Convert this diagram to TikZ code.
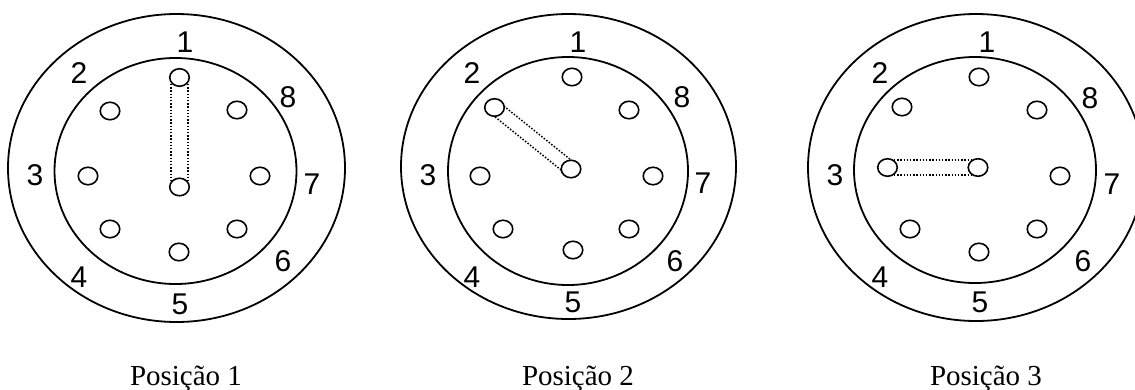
\documentclass[tikz,border=0pt]{standalone}
\usepackage{fontspec}
\setmainfont{Liberation Serif}
\newfontfamily\arialf{Liberation Sans}
\usetikzlibrary{shapes.geometric,calc}
\pgfdeclarelayer{bg}
\pgfsetlayers{bg,main}
\tikzset{
  ring/.style={line width=1.8pt},
  hole/.style={draw, ellipse, line width=1.6pt, fill=white, minimum width=19.5pt, minimum height=17.5pt, inner sep=0pt},
  num/.style={font=\arialf\fontsize{30}{30}\selectfont, inner sep=0pt},
  captxt/.style={font=\fontsize{29}{29}\selectfont, inner sep=0pt, anchor=base},
  dotline/.style={line width=1.5pt, dash pattern=on 1.5pt off 1.7pt}
}
\begin{document}
\begin{tikzpicture}[x=1pt,y=-1pt]
\useasboundingbox (0,0) rectangle (1135,389);
\clip (0,0) rectangle (1135,389);
% ---------- Diagram 1 ----------
\draw[ring] (176.5,168) ellipse [x radius=168.5pt, y radius=154pt];
\draw[ring] (175.5,171) ellipse [x radius=121pt, y radius=113pt];
\node[hole] (a1) at (179.5,77.5) {};
\node[hole] (a8) at (237,110) {};
\node[hole] (a7) at (260,176) {};
\node[hole] (a6) at (237,229) {};
\node[hole] (a5) at (179,252) {};
\node[hole] (a4) at (110,229) {};
\node[hole] (a3) at (88,176) {};
\node[hole] (a2) at (110,111) {};
\node[hole] (ac) at (179.5,187) {};
\begin{pgfonlayer}{bg}
\draw[dotline] ($(a1)!8.5pt!90:(ac)$) -- ($(ac)!8.5pt!-90:(a1)$);
\draw[dotline] ($(a1)!8.5pt!-90:(ac)$) -- ($(ac)!8.5pt!90:(a1)$);
\end{pgfonlayer}
\node[num] (la1) at (185,42) {1};
\node[num] (la2) at (79,73) {2};
\node[num] (la8) at (288,97) {8};
\node[num] (la3) at (35,175) {3};
\node[num] (la7) at (312,184) {7};
\node[num] (la6) at (283,261) {6};
\node[num] (la4) at (79,277) {4};
\node[num] (la5) at (180,304) {5};
\node[captxt] (pa) at (186,385) {Posição 1};
% ---------- Diagram 2 ----------
\draw[ring] (568.5,166.5) ellipse [x radius=167.5pt, y radius=152.5pt];
\draw[ring] (568,171) ellipse [x radius=120pt, y radius=114pt];
\node[hole] (b1) at (572,77) {};
\node[hole] (b8) at (629,110) {};
\node[hole] (b7) at (653,176) {};
\node[hole] (b6) at (629,229) {};
\node[hole] (b5) at (573,250) {};
\node[hole] (b4) at (503,229) {};
\node[hole] (b3) at (480,176) {};
\node[hole] (b2) at (494.5,107.5) {};
\node[hole] (bc) at (571,169) {};
\begin{pgfonlayer}{bg}
\draw[dotline] ($(b2)!7pt!90:(bc)$) -- ($(bc)!7pt!-90:(b2)$);
\draw[dotline] ($(b2)!7pt!-90:(bc)$) -- ($(bc)!7pt!90:(b2)$);
\end{pgfonlayer}
\node[num] (lb1) at (578,42) {1};
\node[num] (lb2) at (472,73) {2};
\node[num] (lb8) at (682,97) {8};
\node[num] (lb3) at (428,175) {3};
\node[num] (lb7) at (703,183) {7};
\node[num] (lb6) at (675,261) {6};
\node[num] (lb4) at (472,277) {4};
\node[num] (lb5) at (573,302) {5};
\node[captxt] (pb) at (578,385) {Posição 2};
% ---------- Diagram 3 ----------
\draw[ring] (976,167.5) ellipse [x radius=168pt, y radius=153.5pt];
\draw[ring] (975,170) ellipse [x radius=121pt, y radius=113pt];
\node[hole] (c1) at (979,77) {};
\node[hole] (c8) at (1037,110) {};
\node[hole] (c7) at (1060,176) {};
\node[hole] (c6) at (1037,229) {};
\node[hole] (c5) at (979,252) {};
\node[hole] (c4) at (910,229) {};
\node[hole] (c3) at (887.5,167.5) {};
\node[hole] (c2) at (902,107) {};
\node[hole] (cc) at (978,167.5) {};
\begin{pgfonlayer}{bg}
\draw[dotline] ($(c3)!7.5pt!90:(cc)$) -- ($(cc)!7.5pt!-90:(c3)$);
\draw[dotline] ($(c3)!7.5pt!-90:(cc)$) -- ($(cc)!7.5pt!90:(c3)$);
\end{pgfonlayer}
\node[num] (lc1) at (987,42) {1};
\node[num] (lc2) at (880,73) {2};
\node[num] (lc8) at (1090,98) {8};
\node[num] (lc3) at (835,175) {3};
\node[num] (lc7) at (1112,184) {7};
\node[num] (lc6) at (1083,261) {6};
\node[num] (lc4) at (880,277) {4};
\node[num] (lc5) at (980,302) {5};
\node[captxt] (pc) at (986,385) {Posição 3};
\end{tikzpicture}
\end{document}
